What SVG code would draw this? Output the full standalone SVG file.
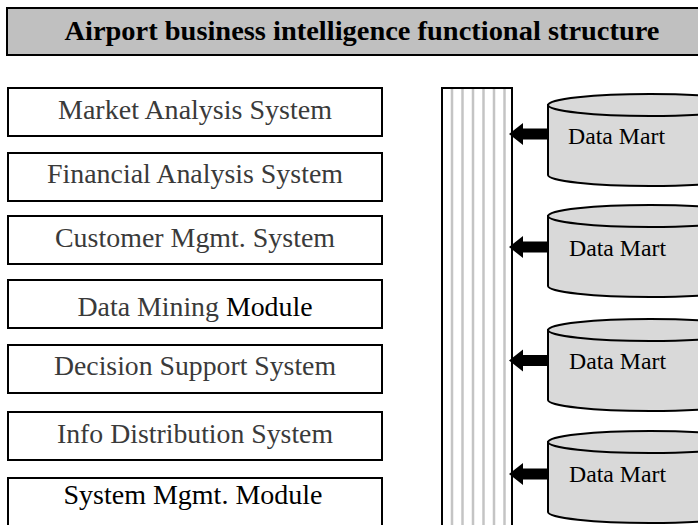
<svg xmlns="http://www.w3.org/2000/svg" width="698" height="525" viewBox="0 0 698 525">
<style>
.box{fill:#fff;stroke:#000;stroke-width:2}
.lbl{font-family:"Liberation Serif","Times New Roman",serif;font-size:27px;fill:#3a3a3a;text-anchor:middle}
.blk{fill:#000}
.dm{font-family:"Liberation Serif","Times New Roman",serif;font-size:23px;fill:#000}
.cyl{fill:#d9d9d9;stroke:#000;stroke-width:2}
.stripe{stroke:#c4c4c4;stroke-width:2.5}
.arrow{fill:#000}
</style>
<g id="title">
<rect x="7" y="8" width="700" height="47" fill="#c0c0c0" stroke="#000" stroke-width="2"/>
<text x="362" y="40" font-family="'Liberation Serif','Times New Roman',serif" font-size="28" font-weight="bold" text-anchor="middle" textLength="595" lengthAdjust="spacingAndGlyphs">Airport business intelligence functional structure</text>
</g>
<g id="market"><rect class="box" x="8" y="88" width="374" height="48"/><text class="lbl" x="195" y="119" textLength="274" lengthAdjust="spacingAndGlyphs">Market Analysis System</text></g>
<g id="financial"><rect class="box" x="8" y="153" width="374" height="48"/><text class="lbl" x="195" y="183" textLength="296" lengthAdjust="spacingAndGlyphs">Financial Analysis System</text></g>
<g id="customer"><rect class="box" x="8" y="216" width="374" height="48"/><text class="lbl" x="195" y="247" textLength="280" lengthAdjust="spacingAndGlyphs">Customer Mgmt. System</text></g>
<g id="mining"><rect class="box" x="8" y="280" width="374" height="48"/><text class="lbl" x="195" y="316" textLength="235" lengthAdjust="spacingAndGlyphs">Data Mining <tspan class="blk">Module</tspan></text></g>
<g id="decision"><rect class="box" x="8" y="345" width="374" height="48"/><text class="lbl" x="195" y="375" textLength="282" lengthAdjust="spacingAndGlyphs">Decision Support System</text></g>
<g id="distribution"><rect class="box" x="8" y="412" width="374" height="48"/><text class="lbl" x="195" y="443" textLength="276" lengthAdjust="spacingAndGlyphs">Info Distribution System</text></g>
<g id="sysmgmt"><rect class="box" x="8" y="478" width="374" height="60"/><text class="lbl blk" x="193" y="504" textLength="259" lengthAdjust="spacingAndGlyphs">System Mgmt. Module</text></g>
<g id="bus">
<rect x="442" y="88" width="70" height="460" fill="#fff" stroke="#000" stroke-width="2"/>
<g class="stripe">
<line x1="452" y1="89" x2="452" y2="525"/>
<line x1="462.5" y1="89" x2="462.5" y2="525"/>
<line x1="473" y1="89" x2="473" y2="525"/>
<line x1="483.5" y1="89" x2="483.5" y2="525"/>
<line x1="494" y1="89" x2="494" y2="525"/>
<line x1="504.5" y1="89" x2="504.5" y2="525"/>
</g>
</g>
<g id="mart1">
<path class="cyl" d="M548,105 L548,175 A102,11 0 0,0 752,175 L752,105 Z"/>
<ellipse class="cyl" cx="650" cy="105" rx="102" ry="11" fill="#e0e0e0"/>
<text class="dm" x="568" y="144" textLength="97" lengthAdjust="spacingAndGlyphs">Data Mart</text>
</g>
<g id="mart2">
<path class="cyl" d="M548,216 L548,286 A102,11 0 0,0 752,286 L752,216 Z"/>
<ellipse class="cyl" cx="650" cy="216" rx="102" ry="11" fill="#e0e0e0"/>
<text class="dm" x="569" y="256" textLength="97" lengthAdjust="spacingAndGlyphs">Data Mart</text>
</g>
<g id="mart3">
<path class="cyl" d="M548,330 L548,400 A102,11 0 0,0 752,400 L752,330 Z"/>
<ellipse class="cyl" cx="650" cy="330" rx="102" ry="11" fill="#e0e0e0"/>
<text class="dm" x="569" y="369" textLength="97" lengthAdjust="spacingAndGlyphs">Data Mart</text>
</g>
<g id="mart4">
<path class="cyl" d="M548,442 L548,512 A102,11 0 0,0 752,512 L752,442 Z"/>
<ellipse class="cyl" cx="650" cy="442" rx="102" ry="11" fill="#e0e0e0"/>
<text class="dm" x="569" y="482" textLength="97" lengthAdjust="spacingAndGlyphs">Data Mart</text>
</g>
<g id="connectors" class="arrow">
<polygon points="548,128.5 523,128.5 523,123 509,134 523,145 523,139.5 548,139.5"/>
<polygon points="548,241.5 523,241.5 523,236 509,247 523,258 523,252.5 548,252.5"/>
<polygon points="548,355 523,355 523,349.5 509,360.5 523,371.5 523,366 548,366"/>
<polygon points="548,468.5 523,468.5 523,463 509,474 523,485 523,479.5 548,479.5"/>
</g>
</svg>
